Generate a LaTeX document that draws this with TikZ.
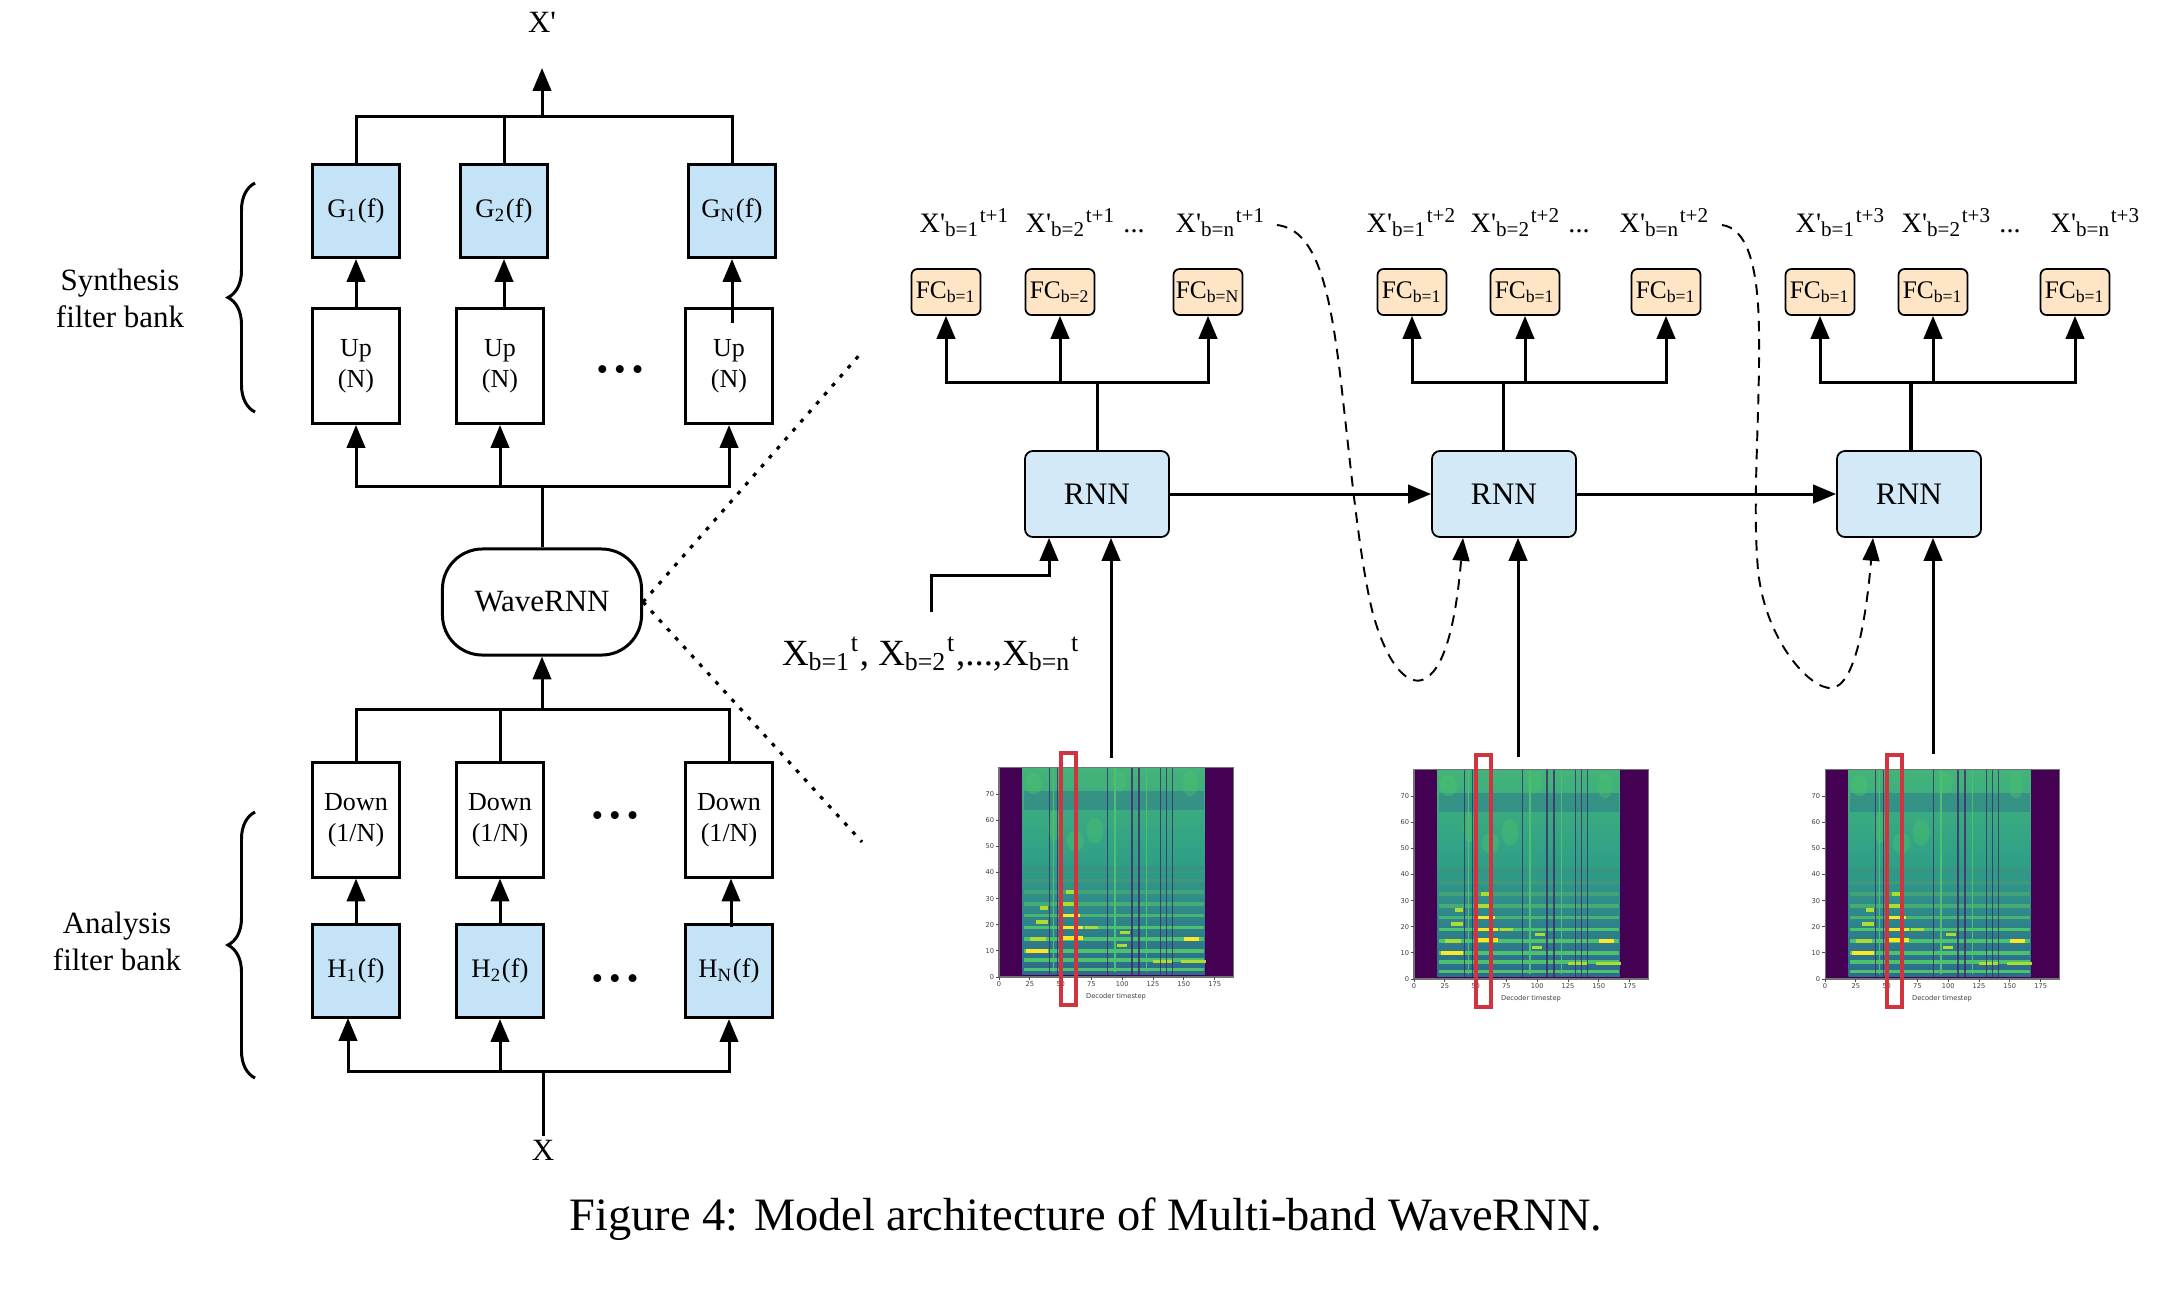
\documentclass[tikz,border=0pt]{standalone}
\usepackage{fontspec}
\setmainfont{Liberation Serif}
\newfontfamily\plotfont{DejaVu Sans}
\usetikzlibrary{arrows.meta,decorations.pathreplacing,calc}
\definecolor{gboxc}{HTML}{C4E3F6}
\definecolor{rnnc}{HTML}{D4E9F8}
\definecolor{fcc}{HTML}{FDE5C6}
\definecolor{redc}{HTML}{D0343F}
\definecolor{vA}{HTML}{440154}
\definecolor{vB}{HTML}{3B528B}
\definecolor{vC}{HTML}{2C728E}
\definecolor{vL}{HTML}{2E6A8E}
\definecolor{vD}{HTML}{2FA086}
\definecolor{vT}{HTML}{44B47A}
\definecolor{vE}{HTML}{4CC26C}
\definecolor{vF}{HTML}{ADDC30}
\definecolor{vG}{HTML}{FDE725}
\newcommand\fs[2]{\fontsize{#1}{#2}\selectfont}

\newcommand\spectro[2]{%
\begin{scope}[shift={(#1,#2)},x=0.012316cm,y=0.026125cm]
\fill[vA] (0,0) rectangle (190,80);
\shade[bottom color=vD,top color=vT] (19,45) rectangle (167,80);
\shade[bottom color=vL,top color=vD] (19,0.8) rectangle (167,45.2);
\fill[vC,opacity=.45] (20,64) rectangle (166,71);
\fill[vE,opacity=.45] (28,74) ellipse (7 and 4);
\fill[vE,opacity=.45] (45,58) ellipse (5 and 6);
\fill[vE,opacity=.4] (62,52) ellipse (7 and 4);
\fill[vE,opacity=.4] (78,56) ellipse (7 and 5);
\fill[vE,opacity=.4] (98,75) ellipse (6 and 4);
\fill[vE,opacity=.4] (155,74) ellipse (6 and 5);
\foreach \yy/\cc in {3/vE,6.5/vE,10/vE,14.5/vE,19/vE,23.5/vE!85!vL,28/vE!75!vL,32.5/vE!65!vL,37/vE!55!vL,41.5/vE!45!vL} {\draw[\cc,line width=0.95pt] (20.5,\yy) -- (166,\yy);}
\foreach \xa/\xb/\yy/\cc in {22/40/10/vG,25/38/14.5/vF,30/40/21/vF,33/40/26.5/vF,50/68/15/vG,50/68/19/vG,51/66/23.5/vG,52/64/28/vF,54/62/32.5/vF,70/80/19/vF,150/162/14.5/vG,148/168/6/vF,125/140/6/vF,96/104/12/vF,98/106/17/vF} {\draw[\cc,line width=1pt] (\xa,\yy) -- (\xb,\yy);}
\foreach \xx in {41,47.5,88,108,113.5,131,136,141} {\draw[vA!60!vB,line width=0.4pt,opacity=.75] (\xx,0.8) -- (\xx,80);}
\foreach \xx in {44,94,119.5} {\draw[vE,line width=0.4pt] (\xx,2) -- (\xx,80);}
\draw[black!55,line width=0.3pt] (0,0) rectangle (190,80);
\foreach \tv in {0,25,...,175} {\draw[black!70,line width=0.25pt] (\tv,0) -- (\tv,-1.2); \node[tk,anchor=north] (s#1x\tv) at (\tv,-1.2) {\tv};}
\foreach \tv in {0,10,...,70} {\draw[black!70,line width=0.25pt] (0,\tv) -- (-2.5,\tv); \node[tk,anchor=east] (s#1y\tv) at (-2.5,\tv) {\tv};}
\node[tk] (s#1lab) at (95,-7.5) {Decoder timestep};
\draw[redc,line width=1.1pt] (50.5,-10.7) rectangle (62.3,85.7);
\end{scope}}

\begin{document}
\begin{tikzpicture}[x=0.01cm,y=-0.01cm,
 ln/.style={line width=0.85pt},
 arr/.style={line width=0.85pt,-{Triangle[length=6.5pt,width=5.2pt]}},
 filt/.style={draw,line width=0.85pt,fill=gboxc,minimum width=0.86cm,minimum height=0.93cm,inner sep=0pt,font=\fs{7.6}{9}},
 ud/.style={draw,line width=0.85pt,fill=white,minimum width=0.86cm,minimum height=1.15cm,inner sep=0pt,align=center,font=\fs{7.4}{8.9}},
 wave/.style={draw,line width=0.85pt,fill=white,rounded corners=0.4cm,minimum width=1.99cm,minimum height=1.06cm,font=\fs{8.8}{10}},
 lbl/.style={font=\fs{8.8}{10.5},align=center,inner sep=1pt},
 dots/.style={font=\fs{9.4}{10},inner sep=0pt},
 rnn/.style={draw,line width=0.5pt,fill=rnnc,rounded corners=0.08cm,minimum width=1.44cm,minimum height=0.86cm,font=\fs{8.9}{10}},
 fc/.style={draw,line width=0.5pt,fill=fcc,rounded corners=0.06cm,minimum width=0.69cm,minimum height=0.46cm,inner sep=0pt,font=\fs{7.2}{8}},
 xl/.style={anchor=base west,inner sep=0pt,font=\fs{8}{9}},
 dsh/.style={line width=0.55pt,dash pattern=on 3pt off 2.2pt,-{Triangle[length=6.5pt,width=4.8pt]}},
 dotl/.style={line width=0.9pt,dash pattern=on 1.1pt off 2.3pt},
 brc/.style={line width=0.85pt,decorate,decoration={brace,amplitude=0.27cm}},
 tk/.style={font=\plotfont\fs{1.9}{2.2},inner sep=0.3pt,text=black!75}]
\fill[white] (0,0) rectangle (2170,1314);
\useasboundingbox (0,0) rectangle (2170,1314);

% ---------------- left column ----------------
\node[lbl] (xp) at (542,22) {X\textquotesingle};
\node[filt] (g1) at (356,211) {G\textsubscript{1}(f)};
\node[filt] (g2) at (504,211) {G\textsubscript{2}(f)};
\node[filt] (gn) at (732,211) {G\textsubscript{N}(f)};
\node[ud] (u1) at (356,366) {Up\\(N)};
\node[ud] (u2) at (500,366) {Up\\(N)};
\node[ud] (un) at (729,366) {Up\\(N)};
\node[dots] (du) at (620,373) {•\kern0.06cm•\kern0.06cm•};
\node[wave] (w) at (542,602) {WaveRNN};
\node[ud,minimum height=1.14cm] (d1) at (356,820) {Down\\(1/N)};
\node[ud,minimum height=1.14cm] (d2) at (500,820) {Down\\(1/N)};
\node[ud,minimum height=1.14cm] (dn) at (729,820) {Down\\(1/N)};
\node[dots] (dd) at (615,819) {•\kern0.06cm•\kern0.06cm•};
\node[filt] (h1) at (356,971) {H\textsubscript{1}(f)};
\node[filt] (h2) at (500,971) {H\textsubscript{2}(f)};
\node[filt] (hn) at (729,971) {H\textsubscript{N}(f)};
\node[dots] (dh) at (615,982) {•\kern0.06cm•\kern0.06cm•};
\node[lbl] (x) at (543,1150) {X};
\node[lbl] (syn) at (120,298) {Synthesis\\filter bank};
\node[lbl] (ana) at (117,941) {Analysis\\filter bank};

\coordinate (topbar) at (542,116);
\coordinate (xptip) at (542,68);
\coordinate (upbar) at (542,486);
\coordinate (dbar) at (542,709);
\coordinate (hbar) at (543,1071);
\coordinate (h1in) at (348,1018);

\draw[ln] (g1.north) |- (topbar) -| (gn.north);
\draw[ln] (g2.north) -- (g2.north |- topbar);
\draw[arr] (topbar) -- (xptip);
\draw[arr] (u1.north) -- (g1.south);
\draw[arr] (g2.south |- u2.north) -- (g2.south);
\draw[arr] ($(un.north)+(3,16)$) -- (gn.south);
\draw[ln] (w.north) -- (upbar);
\draw[arr] (upbar) -| (u1.south);
\draw[arr] (upbar) -| (un.south);
\draw[arr] (u2.south |- upbar) -- (u2.south);
\draw[arr] (dbar) -- (w.south);
\draw[ln] (d1.north) |- (dbar);
\draw[ln] (dn.north) |- (dbar);
\draw[ln] (d2.north) -- (d2.north |- dbar);
\draw[arr] (h1.north) -- (d1.south);
\draw[arr] (h2.north) -- (d2.south);
\draw[arr] ($(hn.north)+(2,4)$) -- ($(dn.south)+(2,0)$);
\draw[ln] (x.north) -- (hbar);
\draw[arr] (hbar) -| (h1in);
\draw[arr] (hbar) -| (hn.south);
\draw[arr] (h2.south |- hbar) -- (h2.south);

\draw[brc] (255,412) -- (255,183);
\draw[brc] (255,1078) -- (255,812);

\coordinate (zt) at (862,352);
\coordinate (zb) at (862,842);
\draw[dotl] (w.east) -- (zt);
\draw[dotl] (w.east) -- (zb);

% ---------------- right part ----------------
\node[xl] (o11) at (919,232) {X\textquotesingle\textsubscript{b=1}\textsuperscript{t+1}};
\node[xl] (o12) at (1025,232) {X\textquotesingle\textsubscript{b=2}\textsuperscript{t+1}};
\node[xl,anchor=base] (o1d) at (1134,232) {...};
\node[xl] (o1n) at (1175,232) {X\textquotesingle\textsubscript{b=n}\textsuperscript{t+1}};
\node[xl] (o21) at (1366,232) {X\textquotesingle\textsubscript{b=1}\textsuperscript{t+2}};
\node[xl] (o22) at (1470,232) {X\textquotesingle\textsubscript{b=2}\textsuperscript{t+2}};
\node[xl,anchor=base] (o2d) at (1579,232) {...};
\node[xl] (o2n) at (1619,232) {X\textquotesingle\textsubscript{b=n}\textsuperscript{t+2}};
\node[xl] (o31) at (1795,232) {X\textquotesingle\textsubscript{b=1}\textsuperscript{t+3}};
\node[xl] (o32) at (1901,232) {X\textquotesingle\textsubscript{b=2}\textsuperscript{t+3}};
\node[xl,anchor=base] (o3d) at (2010,232) {...};
\node[xl] (o3n) at (2050,232) {X\textquotesingle\textsubscript{b=n}\textsuperscript{t+3}};

\node[fc] (f11) at (946,292) {FC\textsubscript{b=1}};
\node[fc] (f12) at (1060,292) {FC\textsubscript{b=2}};
\node[fc] (f1n) at (1208,292) {FC\textsubscript{b=N}};
\node[fc] (f21) at (1412,292) {FC\textsubscript{b=1}};
\node[fc] (f22) at (1525,292) {FC\textsubscript{b=1}};
\node[fc] (f2n) at (1666,292) {FC\textsubscript{b=1}};
\node[fc] (f31) at (1820,292) {FC\textsubscript{b=1}};
\node[fc] (f32) at (1933,292) {FC\textsubscript{b=1}};
\node[fc] (f3n) at (2075,292) {FC\textsubscript{b=1}};

\node[rnn] (r1) at (1097,494) {RNN};
\node[rnn] (r2) at (1504,494) {RNN};
\node[rnn] (r3) at (1909,494) {RNN};

\coordinate (b1) at (1097,382);
\coordinate (b2) at (1503,382);
\coordinate (b3) at (1911,382);
\draw[ln] (r1.north) -- (b1);
\draw[arr] (b1) -| (f11.south);
\draw[arr] (b1) -| (f1n.south);
\draw[arr] (f12.south |- b1) -- (f12.south);
\draw[ln] (r2.north -| b2) -- (b2);
\draw[arr] (b2) -| (f21.south);
\draw[arr] (b2) -| (f2n.south);
\draw[arr] (f22.south |- b2) -- (f22.south);
\draw[line width=1.1pt] (r3.north -| b3) -- (b3);
\draw[arr] (b3) -| (f31.south);
\draw[arr] (b3) -| (f3n.south);
\draw[arr] (f32.south |- b3) -- (f32.south);

\draw[arr] (r1.east) -- (r2.west);
\draw[arr] (r2.east) -- (r3.west);

% inputs
\node[font=\fs{10.5}{12},anchor=base,inner sep=0pt] (inl) at (931,665) {X\textsubscript{b=1}\textsuperscript{t}, X\textsubscript{b=2}\textsuperscript{t},...,X\textsubscript{b=n}\textsuperscript{t}};
\coordinate (inA) at (931,612);
\coordinate (inB) at (1049,575);
\draw[arr] (inA) |- (inB) -- (inB |- r1.south);

\coordinate (sp1) at (1111,758);
\coordinate (sp2) at (1518,757);
\coordinate (sp3) at (1933,754);
\draw[arr] (sp1) -- (sp1 |- r1.south);
\draw[arr] (sp2) -- (sp2 |- r2.south);
\draw[arr] (sp3) -- (sp3 |- r3.south);

% recurrent dashed feedback
\coordinate (c1) at (1277,225);
\coordinate (c2) at (1722,225);
\draw[dsh] (c1) .. controls (1320,230) and (1332,300) .. (1343,400)
  .. controls (1352,480) and (1360,560) .. (1372,610)
  .. controls (1385,660) and (1405,685) .. (1422,680)
  .. controls (1445,672) and (1456,620) .. ($(r2.south)+(-41,0)$);
\draw[dsh] (c2) .. controls (1745,228) and (1758,260) .. (1759,330)
  .. controls (1760,420) and (1752,500) .. (1758,570)
  .. controls (1765,640) and (1810,690) .. (1832,688)
  .. controls (1855,685) and (1866,620) .. ($(r3.south)+(-36,0)$);

% spectrograms
\spectro{999}{977}
\spectro{1414}{979}
\spectro{1825}{979}

\node[font=\fs{13.2}{15}] (cap) at (1086,1219) {Figure 4: Model architecture of Multi-band WaveRNN.};
\end{tikzpicture}
\end{document}
